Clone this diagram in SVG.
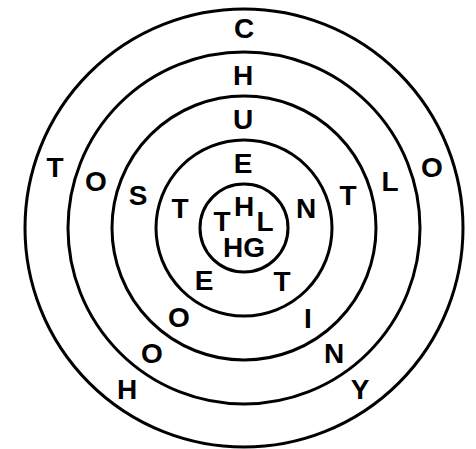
<svg xmlns="http://www.w3.org/2000/svg" width="476" height="449" viewBox="0 0 476 449">
<style>
.r{fill:none;stroke:#000;stroke-width:3}
text{font-family:"Liberation Sans",Arial,sans-serif;font-weight:bold;font-size:28px;text-anchor:middle;fill:#000}
</style>
<rect width="476" height="449" fill="#fff"/>
<g id="rings">
<circle class="r" cx="244" cy="228" r="219"/>
<circle class="r" cx="244" cy="228" r="176"/>
<circle class="r" cx="244" cy="228" r="132"/>
<circle class="r" cx="244" cy="228" r="88"/>
<circle class="r" cx="244" cy="228" r="44"/>
</g>
<g id="letters">
<text x="244" y="38">C</text>
<text x="243" y="85">H</text>
<text x="243" y="129">U</text>
<text x="243" y="173">E</text>
<text x="244" y="216">H</text>
<text x="222" y="231">T</text>
<text x="265" y="231">L</text>
<text x="244" y="257">HG</text>
<text x="180" y="218">T</text>
<text x="306" y="218">N</text>
<text x="138" y="205">S</text>
<text x="348" y="205">T</text>
<text x="96" y="191">O</text>
<text x="390" y="191">L</text>
<text x="55" y="177">T</text>
<text x="432" y="177">O</text>
<text x="204" y="290">E</text>
<text x="282" y="291">T</text>
<text x="179" y="327">O</text>
<text x="308" y="328">I</text>
<text x="152" y="363">O</text>
<text x="334" y="363">N</text>
<text x="127" y="399">H</text>
<text x="360" y="399">Y</text>
</g>
</svg>
